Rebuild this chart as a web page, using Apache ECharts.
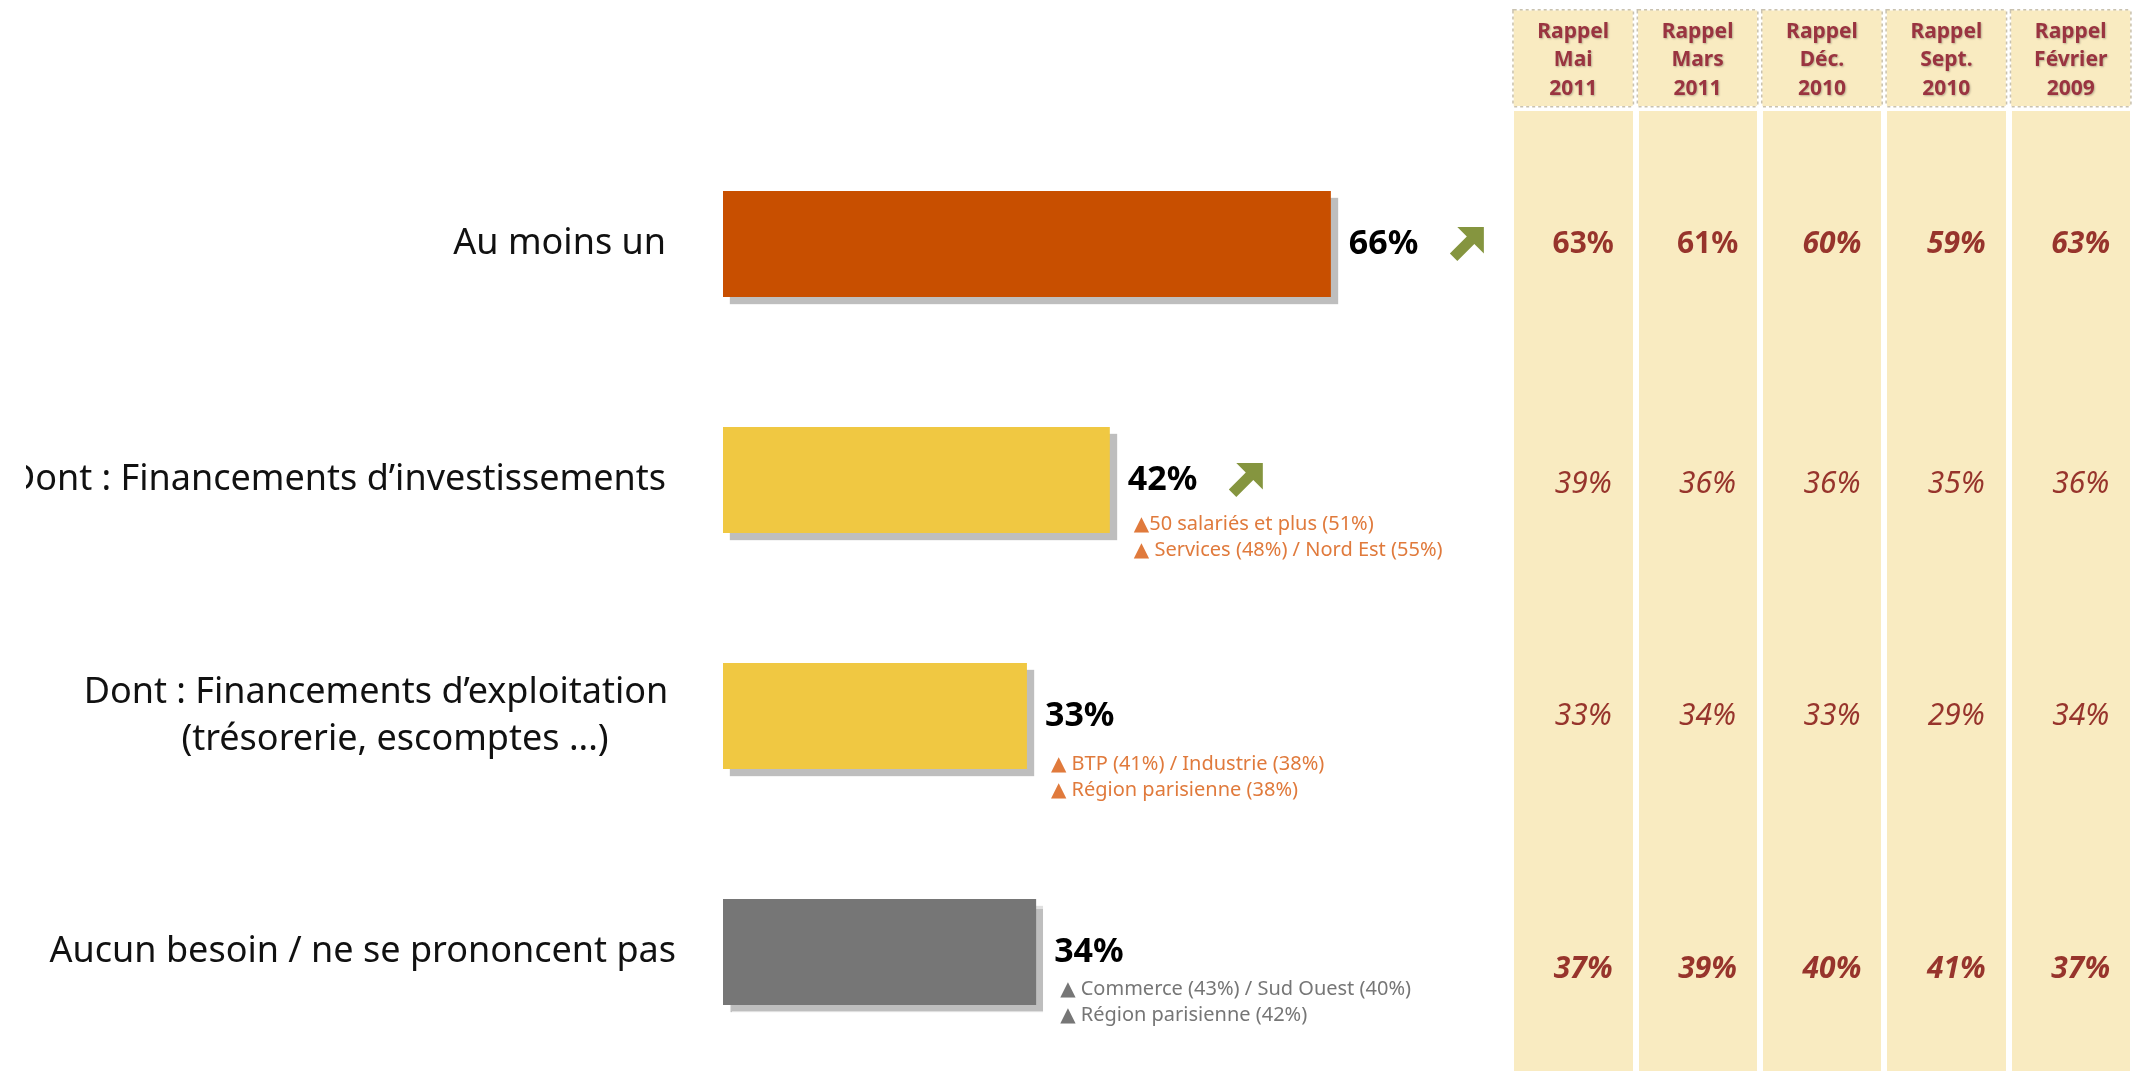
<!DOCTYPE html>
<html>
<head>
<meta charset="utf-8">
<script src="https://cdn.jsdelivr.net/npm/echarts@6/dist/echarts.min.js"></script>
<style>
html,body{margin:0;padding:0;background:#fff;}
#chart{width:2134px;height:1071px;}
</style>
</head>
<body>
<div id="chart"></div>
<script>
// ---------- DATA ----------
const categories = [
  'Au moins un',
  'Dont : Financements d’investissements',
  'Dont : Financements d’exploitation\n(trésorerie, escomptes ...)',
  'Aucun besoin / ne se prononcent pas'
];
const currentValues = [66, 42, 33, 34];
const trend = ['up', 'up', '', ''];
const annotations = [
  [],
  ['▲50 salariés et plus (51%)', '▲ Services (48%) / Nord Est (55%)'],
  ['▲ BTP (41%) / Industrie (38%)', '▲ Région parisienne (38%)'],
  ['▲ Commerce (43%) / Sud Ouest (40%)', '▲ Région parisienne (42%)']
];
const periods = ['Rappel\nMai\n2011', 'Rappel\nMars\n2011', 'Rappel\nDéc.\n2010', 'Rappel\nSept.\n2010', 'Rappel\nFévrier\n2009'];
const rappelMai2011 = [63, 39, 33, 37];
const rappelMars2011 = [61, 36, 34, 39];
const rappelDec2010 = [60, 36, 33, 40];
const rappelSept2010 = [59, 35, 29, 41];
const rappelFev2009 = [63, 36, 34, 37];
const history = [rappelMai2011, rappelMars2011, rappelDec2010, rappelSept2010, rappelFev2009];

// ---------- STYLE ----------
const FONT = '"Noto Sans", "DejaVu Sans", sans-serif';
const barColors = ['#C84F00', '#F0C842', '#F0C842', '#767676'];
const annColors = ['#E07A3C', '#E07A3C', '#E07A3C', '#767676'];
const annOffsetY = [0, 57, 61, 50];
const cellOffsetY = [13, 13, 5, 18];
const arrowPath = 'path://M32,0 L32,25 L23.04,16.04 L7.04,32.04 L0,25 L15.96,8.96 L7,0 Z';

function cellFont(row, col) {
  if (row === 0) return { fontWeight: 'bold', fontStyle: col < 2 ? 'normal' : 'italic' };
  if (row === 3) return { fontWeight: 'bold', fontStyle: 'italic' };
  return { fontWeight: 'normal', fontStyle: 'italic' };
}

const cellData = [];
history.forEach((arr, c) => arr.forEach((v, r) => {
  const lf = cellFont(r, c);
  lf.offset = [10, cellOffsetY[r]];
  cellData.push({ value: [c, r, v], label: lf });
}));

const chart = echarts.init(document.getElementById('chart'), null, { renderer: 'canvas' });
chart.setOption({
  backgroundColor: '#ffffff',
  animation: false,
  textStyle: { fontFamily: FONT },
  grid: [
    { left: 723, top: 126, width: 921, height: 944 },
    { left: 1511, right: -6, top: 111, bottom: 0 }
  ],
  xAxis: [
    { gridIndex: 0, type: 'value', min: 0, max: 100, show: false },
    {
      gridIndex: 1, type: 'category', data: periods, position: 'top', boundaryGap: true,
      axisLine: { show: false }, axisTick: { show: false },
      splitArea: { show: true, areaStyle: { color: ['#F9EBC1'] } },
      splitLine: { show: true, lineStyle: { color: '#ffffff', width: 6 } },
      axisLabel: {
        margin: 5, fontSize: 21, fontWeight: 'bold', color: '#9A3440', fontFamily: FONT,
        lineHeight: 28.5, width: 119, align: 'center', padding: [7, 0, 3, 0],
        backgroundColor: '#F9EBC1', borderColor: '#C9C2B0', borderWidth: 1.5, borderType: 'dotted',
        textShadowColor: 'rgba(0,0,0,0.25)', textShadowBlur: 2, textShadowOffsetX: 1, textShadowOffsetY: 1
      }
    }
  ],
  yAxis: [
    {
      gridIndex: 0, type: 'category', data: categories, inverse: true,
      axisLine: { show: false }, axisTick: { show: false }, splitLine: { show: false },
      axisLabel: {
        margin: 47, fontSize: 36, color: '#111', fontFamily: FONT, align: 'right',
        formatter: function (value, idx) {
          if (idx < 2) return '{r|' + value + '}';
          if (value.indexOf('\n') >= 0) {
            const parts = value.split('\n');
            return '{c|' + parts[0] + '}\n{c2|' + parts[1] + '}';
          }
          return value;
        },
        rich: {
          r: { padding: [0, 10, 0, 0], fontSize: 36, fontFamily: FONT, color: '#111' },
          c: { width: 600, align: 'center', fontSize: 36, fontFamily: FONT, color: '#111', lineHeight: 47 },
          c2: { width: 562, align: 'center', padding: [0, 0, 0, 38], fontSize: 36, fontFamily: FONT, color: '#111', lineHeight: 47 }
        }
      }
    },
    { gridIndex: 1, type: 'category', data: categories, inverse: true, show: false }
  ],
  graphic: [
    { type: 'rect', z: 100, shape: { x: 0, y: 450, width: 26, height: 60 }, style: { fill: '#ffffff' } }
  ],
  series: [
    {
      name: 'Total', type: 'bar', xAxisIndex: 0, yAxisIndex: 0, barWidth: 106,
      data: currentValues.map((v, i) => ({ value: v, itemStyle: { color: barColors[i] } })),
      itemStyle: { borderWidth: 0, shadowColor: '#BEBEBE', shadowBlur: 1, shadowOffsetX: 7, shadowOffsetY: 7 },
      label: {
        show: true, position: 'right', distance: 18, formatter: p => p.value + '%',
        fontSize: 34, fontWeight: 'bold', color: '#000', fontFamily: FONT
      },
      z: 2
    },
    {
      name: 'Détails', type: 'bar', xAxisIndex: 0, yAxisIndex: 0, barWidth: 106, barGap: '-100%', silent: true,
      data: currentValues.map((v, i) => ({
        value: v,
        label: { offset: [0, annOffsetY[i]], color: annColors[i] }
      })),
      itemStyle: { color: 'rgba(0,0,0,0)' },
      label: {
        show: true, position: 'right', distance: 24, align: 'left',
        formatter: p => annotations[p.dataIndex].join('\n'),
        fontSize: 20, lineHeight: 26, fontFamily: FONT
      },
      z: 3
    },
    {
      name: 'Tendance', type: 'scatter', xAxisIndex: 0, yAxisIndex: 0, silent: true,
      symbol: arrowPath, symbolSize: [34, 34], symbolOffset: [136, 0],
      itemStyle: { color: '#677A0F' },
      data: currentValues.map((v, i) => trend[i] === 'up' ? [v, i] : null).filter(d => d !== null),
      z: 4
    },
    {
      name: 'Rappels', type: 'scatter', xAxisIndex: 1, yAxisIndex: 1, silent: true,
      symbolSize: 1, itemStyle: { color: 'rgba(0,0,0,0)' },
      data: cellData,
      label: {
        show: true, position: 'inside',
        formatter: p => p.value[2] + '%',
        fontSize: 30, color: '#7E0606', fontFamily: FONT
      },
      z: 5
    }
  ]
});
</script>
</body>
</html>
